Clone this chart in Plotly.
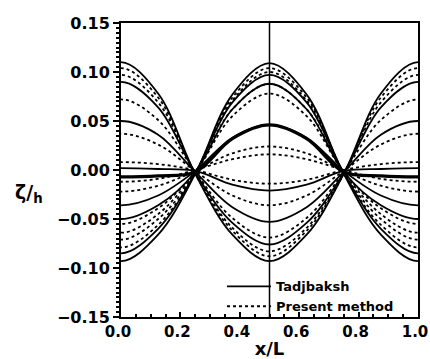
import plotly.graph_objects as go

# sample positions along the tank (x/L); points just outside [0,1] keep the edge crests flat
x_pos = [-0.125, 0.0, 0.125, 0.25, 0.375, 0.5, 0.625, 0.75, 0.875, 1.0, 1.125]

# Tadjbaksh (solid) surface profiles zeta/h
tadj_1 = [0.078, 0.110, 0.078, -0.004, -0.066, -0.093, -0.066, -0.004, 0.078, 0.110, 0.078]
tadj_2 = [0.064, 0.090, 0.064, -0.003, -0.054, -0.076, -0.054, -0.003, 0.064, 0.090, 0.064]
tadj_3 = [0.036, 0.050, 0.036, -0.002, -0.038, -0.053, -0.038, -0.002, 0.036, 0.050, 0.036]
tadj_4 = [0.001, 0.002, 0.001, -0.001, -0.015, -0.021, -0.015, -0.001, 0.001, 0.002, 0.001]
tadj_5 = [-0.006, -0.007, -0.006, -0.002, 0.032, 0.046, 0.032, -0.002, -0.006, -0.007, -0.006]
tadj_6 = [-0.026, -0.036, -0.026, -0.001, 0.033, 0.046, 0.033, -0.001, -0.026, -0.036, -0.026]
tadj_7 = [-0.036, -0.050, -0.036, -0.002, 0.062, 0.088, 0.062, -0.002, -0.036, -0.050, -0.036]
tadj_8 = [-0.060, -0.085, -0.060, -0.003, 0.069, 0.097, 0.069, -0.003, -0.060, -0.085, -0.060]
tadj_9 = [-0.066, -0.093, -0.066, -0.004, 0.077, 0.109, 0.077, -0.004, -0.066, -0.093, -0.066]

# Present method (dotted) surface profiles zeta/h
pres_1 = [0.074, 0.104, 0.074, -0.004, -0.062, -0.088, -0.062, -0.004, 0.074, 0.104, 0.074]
pres_2 = [0.069, 0.097, 0.069, -0.003, -0.059, -0.083, -0.059, -0.003, 0.069, 0.097, 0.069]
pres_3 = [0.051, 0.072, 0.051, -0.002, -0.049, -0.069, -0.049, -0.002, 0.051, 0.072, 0.051]
pres_4 = [0.026, 0.037, 0.026, -0.001, -0.026, -0.036, -0.026, -0.001, 0.026, 0.037, 0.026]
pres_5 = [0.006, 0.008, 0.006, 0.000, -0.010, -0.014, -0.010, 0.000, 0.006, 0.008, 0.006]
pres_6 = [-0.009, -0.012, -0.009, 0.000, 0.011, 0.016, 0.011, 0.000, -0.009, -0.012, -0.009]
pres_7 = [-0.016, -0.022, -0.016, -0.001, 0.017, 0.024, 0.017, -0.001, -0.016, -0.022, -0.016]
pres_8 = [-0.039, -0.055, -0.039, -0.002, 0.055, 0.078, 0.055, -0.002, -0.039, -0.055, -0.039]
pres_9 = [-0.045, -0.064, -0.045, -0.002, 0.062, 0.088, 0.062, -0.002, -0.045, -0.064, -0.045]
pres_10 = [-0.050, -0.071, -0.050, -0.003, 0.071, 0.100, 0.071, -0.003, -0.050, -0.071, -0.050]
pres_11 = [-0.056, -0.079, -0.056, -0.003, 0.074, 0.104, 0.074, -0.003, -0.056, -0.079, -0.056]

tadj_series = [tadj_1, tadj_2, tadj_3, tadj_4, tadj_5, tadj_6, tadj_7, tadj_8, tadj_9]
pres_series = [pres_1, pres_2, pres_3, pres_4, pres_5, pres_6, pres_7, pres_8, pres_9, pres_10, pres_11]
thick_index = 4  # the heavier solid profile

probe_x = 0.5
x_ticks = [0.0, 0.2, 0.4, 0.6, 0.8, 1.0]
x_ticklabels = ["0.0", "0.2", "0.4", "0.6", "0.8", "1.0"]
y_ticks = [-0.15, -0.10, -0.05, 0.0, 0.05, 0.10, 0.15]
y_ticklabels = ["\u22120.15", "\u22120.10", "\u22120.05", "0.00", "0.05", "0.10", "0.15"]

FONT = "DejaVu Sans"

fig = go.Figure()

for i, ys in enumerate(pres_series):
    fig.add_trace(go.Scatter(
        x=x_pos, y=ys, mode="lines",
        line=dict(color="black", width=1.8, dash="dot", shape="spline", smoothing=1.0),
        name="Present method", legendrank=2, showlegend=(i == 0),
    ))

for i, ys in enumerate(tadj_series):
    fig.add_trace(go.Scatter(
        x=x_pos, y=ys, mode="lines",
        line=dict(color="black", width=3.2 if i == thick_index else 1.8,
                  shape="spline", smoothing=1.0),
        name="Tadjbaksh", legendrank=1, showlegend=(i == 0),
    ))

fig.add_vline(x=probe_x, line=dict(color="black", width=1.5))

fig.add_annotation(
    text="\u03b6/<sub>h</sub>", xref="paper", yref="paper",
    x=-0.365, y=0.42, showarrow=False,
    font=dict(family=FONT, size=19, color="black", weight="bold"),
)

fig.update_layout(
    width=430, height=359,
    margin=dict(l=121, r=12, t=23, b=42, autoexpand=False),
    paper_bgcolor="white", plot_bgcolor="white",
    showlegend=True,
    legend=dict(
        x=0.34, y=-0.015, xanchor="left", yanchor="bottom",
        bgcolor="rgba(0,0,0,0)", borderwidth=0,
        font=dict(family=FONT, size=13, color="black", weight="bold"),
        tracegroupgap=0, itemwidth=44,
    ),
)

fig.update_xaxes(
    range=[0, 1], tickvals=x_ticks, ticktext=x_ticklabels,
    showgrid=False, zeroline=False, automargin=False,
    showline=True, linecolor="black", linewidth=2, mirror=True,
    ticks="inside", ticklen=5, tickwidth=1.5, tickcolor="black",
    minor=dict(dtick=0.05, ticks="inside", ticklen=3, tickcolor="black"),
    tickfont=dict(family=FONT, size=15, color="black", weight="bold"),
    ticklabeloverflow="allow", ticklabelshift=-3,
    title=dict(text="x/L", standoff=0,
               font=dict(family=FONT, size=18, color="black", weight="bold")),
)

fig.update_yaxes(
    range=[-0.15, 0.15], tickvals=y_ticks, ticktext=y_ticklabels,
    showgrid=False, zeroline=False, automargin=False,
    showline=True, linecolor="black", linewidth=2, mirror=True,
    ticks="outside", ticklen=6, tickwidth=1.5, tickcolor="black",
    minor=dict(dtick=0.005, ticks="outside", ticklen=3, tickcolor="black"),
    tickfont=dict(family=FONT, size=16, color="black", weight="bold"),
)

fig.write_html("out.html")
